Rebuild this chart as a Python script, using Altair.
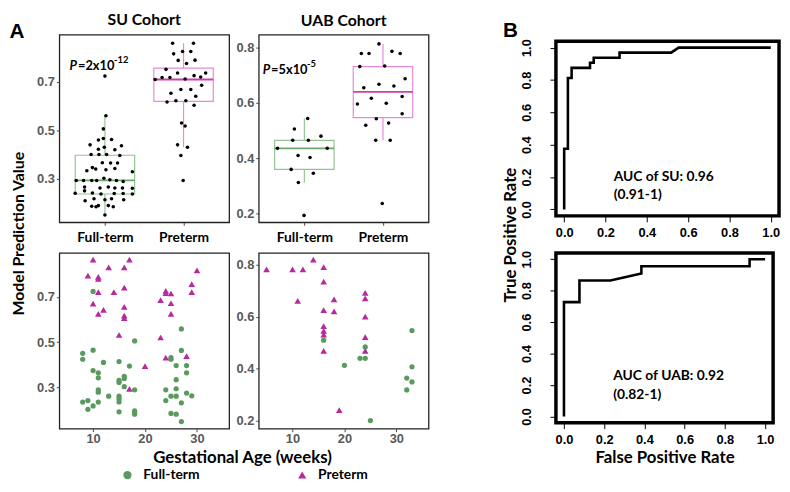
import altair as alt
import pandas as pd

# ---------------- data ----------------
groups = ["Full-term", "Preterm"]

# top row: box plots with jittered points (value, horizontal jitter in category units)
su_ft_box_val = [0.723, 0.559, 0.505, 0.465, 0.459, 0.461, 0.439, 0.429, 0.435, 0.421, 0.419, 0.399,
                 0.399, 0.399, 0.395, 0.345, 0.339, 0.365, 0.364, 0.364, 0.332, 0.336, 0.341, 0.328,
                 0.292, 0.292, 0.292, 0.301, 0.295, 0.292, 0.288, 0.292, 0.265, 0.261, 0.265, 0.261,
                 0.261, 0.260, 0.239, 0.249, 0.240, 0.236, 0.238, 0.238, 0.236, 0.208, 0.216, 0.212,
                 0.216, 0.212, 0.185, 0.183, 0.188, 0.188, 0.183, 0.149]
su_ft_box_jit = [0, 0.013, -0.02, -0.02, -0.083, 0.084, -0.189, -0.008, 0.21, -0.083, 0.126, -0.176,
                 -0.076, 0.021, 0.189, -0.159, -0.117, -0.033, 0.072, 0.16, -0.23, 0.013, 0.126, 0.349,
                 -0.272, -0.168, -0.105, -0.013, 0.063, 0.147, 0.232, -0.365, -0.259, -0.063, 0.043, 0.126,
                 0.223, 0.349, -0.378, -0.259, -0.159, -0.05, 0.118, 0.232, 0.349, -0.252, -0.139, 0,
                 0.084, 0.239, -0.168, -0.113, -0.083, 0.043, 0.106, 0]
su_pt_box_val = [0.859, 0.859, 0.815, 0.825, 0.825, 0.788, 0.775, 0.789, 0.751, 0.736, 0.725, 0.719,
                 0.736, 0.709, 0.717, 0.717, 0.711, 0.685, 0.668, 0.668, 0.652, 0.640, 0.616, 0.621,
                 0.621, 0.603, 0.529, 0.517, 0.439, 0.429, 0.395, 0.292]
su_pt_box_jit = [-0.139, 0.126, -0.126, -0.013, 0.092, -0.068, 0.038, 0.146, -0.223, -0.076, 0.134, 0.218,
                 0.281, -0.361, -0.273, -0.173, 0.02, 0.23, -0.034, 0.092, -0.16, 0.155, -0.21, -0.097,
                 0.029, 0.134, -0.025, 0.02, -0.076, 0.05, -0.034, -0.005]
uab_ft_box_val = [0.544, 0.506, 0.465, 0.465, 0.480, 0.436, 0.436, 0.410, 0.403, 0.360, 0.346, 0.313, 0.194]
uab_ft_box_jit = [0.042, -0.127, -0.148, 0.051, 0.211, -0.342, 0.291, -0.08, 0.072, -0.168, 0.114, -0.076, -0.004]
uab_pt_box_val = [0.813, 0.778, 0.778, 0.786, 0.778, 0.731, 0.733, 0.687, 0.655, 0.667, 0.661, 0.617,
                  0.623, 0.596, 0.599, 0.561, 0.543, 0.527, 0.519, 0.465, 0.465, 0.237]
uab_pt_box_jit = [-0.051, -0.275, -0.177, 0.114, 0.219, -0.295, 0.022, 0.282, -0.244, -0.051, 0.139, -0.148,
                  0.244, -0.325, 0.042, 0.244, -0.085, 0.072, -0.219, -0.092, 0.092, -0.009]

# box summaries: [lower whisker, Q1, median, Q3, upper whisker]
su_ft_stats = [0.149, 0.236, 0.292, 0.396, 0.559]
su_pt_stats = [0.429, 0.619, 0.709, 0.756, 0.859]
uab_ft_stats = [0.313, 0.360, 0.436, 0.465, 0.544]
uab_pt_stats = [0.465, 0.547, 0.640, 0.731, 0.813]

su_p = ["=2x10", "-12"]
uab_p = ["=5x10", "-5"]

# bottom row: gestational age (weeks) vs model prediction value
su_ft_ga = [8, 8, 8, 9, 9, 10, 10, 10, 10, 11, 11, 11, 11, 11, 12, 13, 15, 15, 15, 15, 15, 15, 15,
            16, 16, 16, 17, 18, 18, 18, 18, 18, 24, 24, 25, 25, 25, 25, 26, 26, 26, 26, 26,
            27, 27, 27, 27, 28, 28, 28, 29]
su_ft_val = [0.451, 0.425, 0.236, 0.243, 0.204, 0.724, 0.465, 0.375, 0.219, 0.365, 0.343, 0.290, 0.280,
             0.236, 0.411, 0.262, 0.415, 0.332, 0.323, 0.262, 0.250, 0.237, 0.193, 0.350, 0.340, 0.304,
             0.395, 0.506, 0.290, 0.197, 0.190, 0.183, 0.290, 0.243, 0.432, 0.425, 0.262, 0.186, 0.397,
             0.335, 0.295, 0.262, 0.183, 0.559, 0.464, 0.233, 0.150, 0.397, 0.365, 0.276, 0.264]
su_pt_ga = [9, 10, 10, 11, 11, 11, 11, 12, 13, 14, 15, 16, 16, 16, 16, 16, 17, 17, 20, 23, 23,
            24, 24, 24, 25, 25, 25, 28, 29, 29, 30]
su_pt_val = [0.794, 0.864, 0.670, 0.788, 0.779, 0.721, 0.625, 0.643, 0.830, 0.721, 0.532, 0.830, 0.741,
             0.656, 0.617, 0.606, 0.864, 0.294, 0.395, 0.686, 0.521, 0.727, 0.717, 0.432, 0.715, 0.672,
             0.625, 0.439, 0.756, 0.721, 0.817]
uab_ft_ga = [16, 20, 23, 24, 24, 25, 32, 32, 33, 33, 33]
uab_ft_val = [0.510, 0.413, 0.440, 0.440, 0.484, 0.200, 0.364, 0.318, 0.547, 0.407, 0.349]
uab_pt_ga = [5, 10, 11, 12, 14, 16, 16, 16, 16, 16, 16, 16, 18, 18, 19, 24, 24, 24, 24, 24]
uab_pt_val = [0.783, 0.783, 0.661, 0.783, 0.820, 0.791, 0.735, 0.626, 0.564, 0.546, 0.531, 0.469,
              0.667, 0.621, 0.240, 0.692, 0.671, 0.601, 0.522, 0.469]

# ROC curves
su_fpr = [0, 0, 0.018, 0.018, 0.036, 0.036, 0.125, 0.125, 0.143, 0.143, 0.268, 0.268, 0.518, 0.554, 1.0]
su_tpr = [0, 0.375, 0.375, 0.8125, 0.8125, 0.875, 0.875, 0.906, 0.906, 0.9375, 0.9375, 0.969, 0.969, 1.0, 1.0]
uab_fpr = [0, 0, 0.077, 0.077, 0.231, 0.385, 0.385, 0.923, 0.923, 1.0]
uab_tpr = [0, 0.727, 0.727, 0.864, 0.864, 0.909, 0.955, 0.955, 1.0, 1.0]
su_auc = "AUC of SU: 0.96\n(0.91-1)"
uab_auc = "AUC of UAB: 0.92\n(0.82-1)"

# ---------------- styling ----------------
FONT = "Lato"
NUM = "Liberation Sans"
GREEN = "#5b9a5f"
MAGENTA = "#b8299e"
GREY = "#595959"
HW = 0.378
BOX_COL = "datum.grp == 'Full-term' ? '#93c493' : '#e58bd9'"
MED_COL = "datum.grp == 'Full-term' ? '#6ea86e' : '#cf3fb0'"

SU_DOM = [0.119, 0.894]
UAB_DOM = [0.169, 0.846]
GA_DOM = [3.5, 36.2]


def yaxis(ticks, title=None, **kw):
    return alt.Axis(values=ticks, format=".1f", grid=False, domain=False, tickSize=3,
                    tickColor="#444444", labelFont=NUM, labelFontSize=13, labelFontWeight="bold",
                    labelColor=GREY, labelPadding=2, title=title, titleFont=FONT, titleFontSize=16,
                    titleFontWeight="bold", titleColor="black", **kw)


def box_panel(ft_val, ft_jit, pt_val, pt_jit, ft_stats, pt_stats, ydom, yticks, title, ptxt,
              px, pfrac, w, h, toff, ytitle=None, letter=None):
    pts = pd.DataFrame({"grp": [groups[0]] * len(ft_val) + [groups[1]] * len(pt_val),
                        "val": ft_val + pt_val, "jit": ft_jit + pt_jit})
    stats = pd.DataFrame({"grp": groups,
                          "lo": [ft_stats[0], pt_stats[0]], "q1": [ft_stats[1], pt_stats[1]],
                          "med": [ft_stats[2], pt_stats[2]], "q3": [ft_stats[3], pt_stats[3]],
                          "hi": [ft_stats[4], pt_stats[4]]})
    xsc = alt.Scale(domain=[0.42, 2.58], nice=False, zero=False)
    xax = alt.Axis(values=[1, 2], labelExpr="datum.value == 1 ? 'Full-term' : 'Preterm'",
                   grid=False, domain=False, tickSize=3, tickColor="#444444", labelFont=FONT,
                   labelFontSize=14, labelFontWeight="bold", labelColor="black", labelPadding=5,
                   title=None)
    ysc = alt.Scale(domain=ydom, nice=False, zero=False)
    if ytitle:
        yax = yaxis(yticks, ytitle, titleX=-41, titleY=201, titleAngle=270,
                    titleAlign="center", titleBaseline="middle")
    else:
        yax = yaxis(yticks)

    def X(f):
        return alt.X(f, type="quantitative", scale=xsc, axis=xax)

    def Y(f):
        return alt.Y(f, type="quantitative", scale=ysc, axis=yax)

    sb = alt.Chart(stats).transform_calculate(
        c="datum.grp == 'Full-term' ? 1 : 2", xl=f"datum.c - {HW}", xr=f"datum.c + {HW}",
        bs=BOX_COL, ms=MED_COL)
    stroke = alt.Stroke("bs:N", scale=None)
    wh = sb.mark_rule(strokeWidth=1.2).encode(x=X("c"), y=Y("q3"), y2="hi:Q", stroke=stroke)
    wl = sb.mark_rule(strokeWidth=1.2).encode(x=X("c"), y=Y("lo"), y2="q1:Q", stroke=stroke)
    box = sb.mark_rect(fillOpacity=0, strokeWidth=1.2).encode(
        x=X("xl"), x2="xr:Q", y=Y("q1"), y2="q3:Q", stroke=stroke)
    med = sb.mark_rule(strokeWidth=1.8).encode(
        x=X("xl"), x2="xr:Q", y=Y("med"), stroke=alt.Stroke("ms:N", scale=None))
    dots = alt.Chart(pts).transform_calculate(
        pos="(datum.grp == 'Full-term' ? 1 : 2) + datum.jit").mark_circle(
        color="black", size=13, opacity=1).encode(x=X("pos"), y=Y("val"))

    pdf = pd.DataFrame({"x": [px], "y": [ydom[0] + pfrac * (ydom[1] - ydom[0])]})
    tb = alt.Chart(pdf)
    p1 = tb.mark_text(text="P", font=FONT, fontSize=13, fontWeight="bold", fontStyle="italic",
                      align="left", baseline="middle", color="black").encode(x=X("x"), y=Y("y"))
    p2 = tb.mark_text(text=ptxt[0], dx=8.5, font=FONT, fontSize=13, fontWeight="bold",
                      align="left", baseline="middle", color="black").encode(x=X("x"), y=Y("y"))
    p3 = tb.mark_text(text=ptxt[1], dx=45, dy=-6, font=FONT, fontSize=9.5, fontWeight="bold",
                      align="left", baseline="middle", color="black").encode(x=X("x"), y=Y("y"))
    layers = [wh, wl, box, med, dots, p1, p2, p3]
    if letter:
        lt = alt.Chart(pd.DataFrame({"t": [letter]})).mark_text(
            font=NUM, fontSize=21, fontWeight="bold", color="black", baseline="middle",
            align="center").encode(x=alt.value(-43), y=alt.value(-3), text="t:N")
        layers.append(lt)
    return alt.layer(*layers).properties(
        width=w, height=h,
        title=alt.TitleParams(title, font=FONT, fontSize=16, fontWeight="bold", color="black",
                              offset=toff, frame="group"))


LEG = alt.Legend(orient="none", legendX=62, legendY=439, direction="horizontal", title=None,
                 labelFont=FONT, labelFontSize=14, labelFontWeight="bold", labelColor="black",
                 symbolSize=70, symbolStrokeWidth=0, labelOffset=9, columnPadding=96)


def scatter_panel(ft_ga, ft_val, pt_ga, pt_val, ydom, yticks, w, h, xtitle=None):
    df = pd.DataFrame({"grp": [groups[0]] * len(ft_ga) + [groups[1]] * len(pt_ga),
                       "ga": ft_ga + pt_ga, "val": ft_val + pt_val})
    kw = {}
    if xtitle:
        kw = dict(titleX=185, titleY=29, titleAlign="center", titleBaseline="middle",
                  titleFont=FONT, titleFontSize=17, titleFontWeight="bold", titleColor="black")
    xax = alt.Axis(values=[10, 20, 30], format="d", grid=False, domain=False, tickSize=3,
                   tickColor="#444444", labelFont=NUM, labelFontSize=13, labelFontWeight="bold",
                   labelColor=GREY, labelPadding=1, title=xtitle, **kw)
    x = alt.X("ga:Q", scale=alt.Scale(domain=GA_DOM, nice=False, zero=False), axis=xax)
    y = alt.Y("val:Q", scale=alt.Scale(domain=ydom, nice=False, zero=False), axis=yaxis(yticks))
    color = alt.Color("grp:N", scale=alt.Scale(domain=groups, range=[GREEN, MAGENTA]), legend=LEG)
    shape = alt.Shape("grp:N", scale=alt.Scale(domain=groups, range=["circle", "triangle-up"]),
                      legend=LEG)
    base = alt.Chart(df)
    ft = base.transform_filter("datum.grp == 'Full-term'").mark_point(
        filled=True, size=28, opacity=1).encode(x=x, y=y, color=color, shape=shape)
    pt = base.transform_filter("datum.grp == 'Preterm'").mark_point(
        filled=True, size=45, opacity=1).encode(x=x, y=y, color=color, shape=shape)
    return alt.layer(ft, pt).properties(width=w, height=h)


def roc_panel(fpr, tpr, auc, ax, ay, w, h, xtitle=None, ytitle=None, letter=None):
    df = pd.DataFrame({"fpr": fpr, "tpr": tpr, "k": list(range(len(fpr)))})
    sc = alt.Scale(domain=[-0.04, 1.04], nice=False, zero=False)
    ticks = [0, 0.2, 0.4, 0.6, 0.8, 1.0]
    xax = alt.Axis(values=ticks, format=".1f", grid=False, domain=False, tickSize=6,
                   tickColor="black", labelFont=NUM, labelFontSize=13, labelFontWeight="bold",
                   labelColor="black", labelPadding=5, title=xtitle, titleFont=FONT,
                   titleFontSize=17, titleFontWeight="bold", titleColor="black", titlePadding=3)
    ykw = {}
    if ytitle:
        ykw = dict(titleX=-46, titleY=196, titleAngle=270, titleAlign="center",
                   titleBaseline="middle")
    yax = alt.Axis(values=ticks, format=".1f", grid=False, domain=False, tickSize=6,
                   tickColor="black", labelFont=NUM, labelFontSize=13, labelFontWeight="bold",
                   labelColor="black", labelAngle=270, labelAlign="center",
                   labelBaseline="bottom", labelPadding=17, title=ytitle, titleFont=FONT,
                   titleFontSize=17, titleFontWeight="bold", titleColor="black", **ykw)
    line = alt.Chart(df).mark_line(color="black", strokeWidth=2.6).encode(
        x=alt.X("fpr:Q", scale=sc, axis=xax), y=alt.Y("tpr:Q", scale=sc, axis=yax), order="k:Q")
    txt = alt.Chart(pd.DataFrame({"x": [ax], "y": [ay], "t": [auc]})).mark_text(
        align="left", baseline="top", lineBreak="\n", lineHeight=19, font=FONT, fontSize=14,
        fontWeight="bold", color="black").encode(
        x=alt.X("x:Q", scale=sc, axis=xax), y=alt.Y("y:Q", scale=sc, axis=yax), text="t:N")
    layers = [line, txt]
    if letter:
        lt = alt.Chart(pd.DataFrame({"t": [letter]})).mark_text(
            font=NUM, fontSize=21, fontWeight="bold", color="black", baseline="middle",
            align="center").encode(x=alt.value(-46), y=alt.value(-10), text="t:N")
        layers.append(lt)
    return alt.layer(*layers).properties(
        width=w, height=h, view=alt.ViewBackground(stroke="black", strokeWidth=3.5))


def spacer(w):
    return alt.Chart(pd.DataFrame({"v": [0]})).mark_point(opacity=0).encode(
        x=alt.X("v:Q", axis=None), y=alt.Y("v:Q", axis=None)).properties(
        width=w, height=4, view=alt.ViewBackground(stroke="transparent"))


su_box = box_panel(su_ft_box_val, su_ft_box_jit, su_pt_box_val, su_pt_box_jit, su_ft_stats,
                   su_pt_stats, SU_DOM, [0.3, 0.5, 0.7], "SU Cohort", su_p, 0.55, 0.835, 172, 190,
                   -7.5, ytitle="Model Prediction Value", letter="A")
uab_box = box_panel(uab_ft_box_val, uab_ft_box_jit, uab_pt_box_val, uab_pt_box_jit, uab_ft_stats,
                    uab_pt_stats, UAB_DOM, [0.2, 0.4, 0.6, 0.8], "UAB Cohort", uab_p, 0.47, 0.81,
                    172, 190, 6)
su_sc = scatter_panel(su_ft_ga, su_ft_val, su_pt_ga, su_pt_val, SU_DOM, [0.3, 0.5, 0.7], 172, 178,
                      xtitle="Gestational Age (weeks)")
uab_sc = scatter_panel(uab_ft_ga, uab_ft_val, uab_pt_ga, uab_pt_val, UAB_DOM,
                       [0.2, 0.4, 0.6, 0.8], 172, 178)
roc_su = roc_panel(su_fpr, su_tpr, su_auc, 0.24, 0.245, 226, 177,
                   ytitle="True Positive Rate", letter="B")
roc_uab = roc_panel(uab_fpr, uab_tpr, uab_auc, 0.245, 0.30, 220, 172,
                    xtitle="False Positive Rate")

chart = alt.concat(
    su_box, uab_box, spacer(69), roc_su,
    su_sc, uab_sc, spacer(69), roc_uab,
    columns=4, spacing={"row": 31, "column": 30}, bounds="flush", align="each", center=True,
).properties(
    padding={"left": 0, "top": 0, "right": 0, "bottom": 0}, background="white"
).configure_view(stroke="#222222", strokeWidth=1.3)

chart.save("out.html", embed_options={"renderer": "svg", "actions": False})
